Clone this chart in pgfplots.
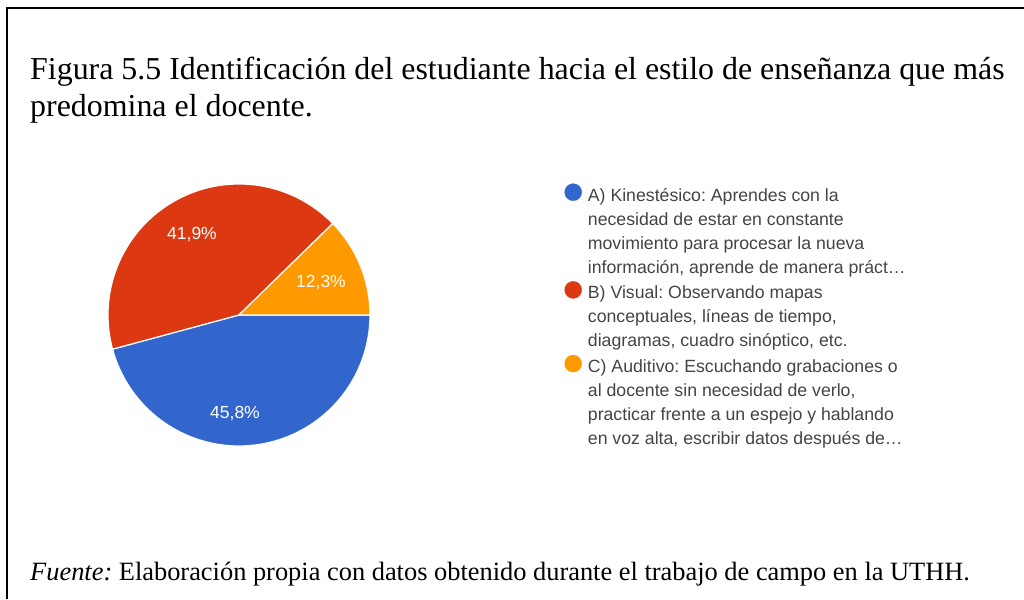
\documentclass[border=0pt]{standalone}
\usepackage{pgfplots}
\pgfplotsset{compat=1.18}
\usepackage{pgfplotstable}
\usepackage{fontspec}
\setmainfont{Liberation Serif}
\newfontfamily\arial{Liberation Sans}
\frenchspacing

\definecolor{gblue}{HTML}{3366CC}
\definecolor{gred}{HTML}{DC3912}
\definecolor{gorange}{HTML}{FF9900}
\definecolor{leggray}{HTML}{444444}

% porcentajes de la figura 5.5
\pgfplotstableread{
estilo valor
A 45.8
B 41.9
C 12.3
}\datos

\newcommand\dotimg[1]{\addlegendimage{legend image code/.code={%
  \fill[#1] (0,-10.5pt) circle (8.5pt); \path (-8.5pt,0) (12.5pt,0);}}}
\newcommand\lgtop{\rule{0pt}{17.5pt}}

\begin{document}
\begin{tikzpicture}
  \pgfplotstablegetelem{0}{valor}\of\datos \let\va\pgfplotsretval
  \pgfplotstablegetelem{1}{valor}\of\datos \let\vb\pgfplotsretval
  \pgfplotstablegetelem{2}{valor}\of\datos \let\vc\pgfplotsretval
  % slices start at 3 o'clock and run clockwise
  \pgfmathsetmacro{\angA}{-3.6*\va}
  \pgfmathsetmacro{\angB}{\angA-3.6*\vb}
  \pgfmathsetmacro{\angC}{\angB-3.6*\vc}
  \def\cx{239}\def\cy{284}\def\rr{131}
  \begin{axis}[
    width=1024pt, height=599pt, scale only axis,
    xmin=0, xmax=1024, ymin=0, ymax=599, enlargelimits=false,
    hide axis, clip=false,
    legend style={draw=none, fill=none, at={(axis cs:564.5,417.5)}, anchor=north west,
      font=\arial\fontsize{17.7}{24}\selectfont, text=leggray,
      row sep=2.5pt, column sep=0pt, inner sep=0pt, outer sep=0pt,
      cells={anchor=north west}},
  ]
    \addplot[forget plot, draw=white, line width=1.2pt, fill=gblue, domain=\angA:0, samples=90]
      ({\cx+\rr*cos(x)}, {\cy+\rr*sin(x)}) -- (axis cs:\cx,\cy) -- cycle;
    \addplot[forget plot, draw=white, line width=1.2pt, fill=gred, domain=\angB:\angA, samples=90]
      ({\cx+\rr*cos(x)}, {\cy+\rr*sin(x)}) -- (axis cs:\cx,\cy) -- cycle;
    \addplot[forget plot, draw=white, line width=1.2pt, fill=gorange, domain=\angC:\angB, samples=40]
      ({\cx+\rr*cos(x)}, {\cy+\rr*sin(x)}) -- (axis cs:\cx,\cy) -- cycle;

    \node[white, font=\arial\fontsize{17.5}{20}\selectfont] at (axis cs:192,364) {41,9\%};
    \node[white, font=\arial\fontsize{17.5}{20}\selectfont] at (axis cs:321,316) {12,3\%};
    \node[white, font=\arial\fontsize{17.5}{20}\selectfont] at (axis cs:235,185) {45,8\%};

    \dotimg{gblue}
    \addlegendentry[align=left]{\lgtop A) Kinestésico: Aprendes con la\\necesidad de estar en constante\\movimiento para procesar la nueva\\información, aprende de manera práct…}
    \dotimg{gred}
    \addlegendentry[align=left]{\lgtop B) Visual: Observando mapas\\conceptuales, líneas de tiempo,\\diagramas, cuadro sinóptico, etc.}
    \dotimg{gorange}
    \addlegendentry[align=left]{\lgtop C) Auditivo: Escuchando grabaciones o\\al docente sin necesidad de verlo,\\practicar frente a un espejo y hablando\\en voz alta, escribir datos después de…}

    % base of a multi-line node is the baseline of its last line
    \node[anchor=base west, align=left, inner sep=0pt, font=\fontsize{31.9}{37}\selectfont] at (axis cs:30,482)
      {Figura 5.5 Identificación del estudiante hacia el estilo de enseñanza que más\\predomina el docente.};
    \node[anchor=base west, inner sep=0pt, font=\fontsize{26.4}{30}\selectfont] at (axis cs:30,19)
      {\textit{Fuente:} Elaboración propia con datos obtenido durante el trabajo de campo en la UTHH.};

    \draw[line width=2.5pt, black] (axis cs:7,0) -- (axis cs:7,591) -- (axis cs:1024,591);
  \end{axis}
  \pgfresetboundingbox
  \useasboundingbox (0,0) rectangle (1024pt,599pt);
\end{tikzpicture}
\end{document}
